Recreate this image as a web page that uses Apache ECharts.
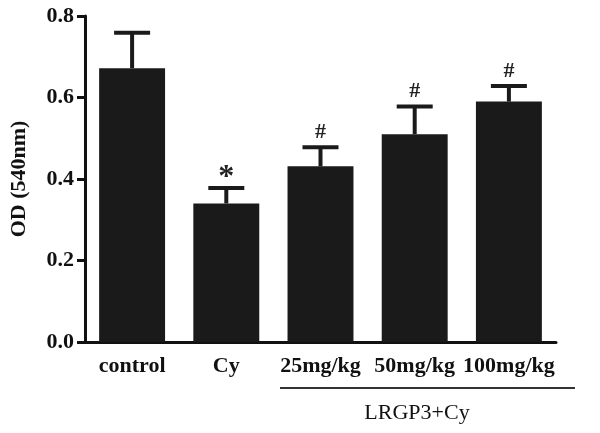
<!DOCTYPE html>
<html><head><meta charset="utf-8">
<script src="https://cdn.jsdelivr.net/npm/echarts@6/dist/echarts.min.js"></script>
<style>html,body{margin:0;padding:0;background:#fff}#c{width:600px;height:433px}</style>
</head><body><div id="c"></div>
<script>
var categories = ['control', 'Cy', '25mg/kg', '50mg/kg', '100mg/kg'];
var means = [0.672, 0.340, 0.431, 0.510, 0.590];
var errors = [0.087, 0.038, 0.047, 0.068, 0.038];
var marks = ['', '*', '#', '#', '#'];
var yTicks = [0.0, 0.2, 0.4, 0.6, 0.8];
var groupLabel = 'LRGP3+Cy';
var yTitle = 'OD (540nm)';

var FONT = '"Liberation Serif","Times New Roman",serif';
var chart = echarts.init(document.getElementById('c'), null, {renderer: 'canvas'});

var errData = categories.map(function (c, i) { return [i, means[i], means[i] + errors[i], marks[i]]; });

chart.setOption({
  animation: false,
  grid: {left: 80, top: 16, width: 476, height: 326, containLabel: false},
  xAxis: {
    type: 'category', data: categories,
    axisLine: {lineStyle: {color: '#111', width: 3}},
    axisTick: {alignWithLabel: true, length: 10, lineStyle: {color: '#111', width: 3}},
    axisLabel: {color: '#111', fontFamily: FONT, fontWeight: 'bold', fontSize: 22, margin: 13, interval: 0}
  },
  yAxis: {
    type: 'value', min: 0, max: 0.8, interval: 0.2,
    name: yTitle, nameLocation: 'middle', nameGap: 55,
    nameTextStyle: {color: '#111', fontFamily: FONT, fontWeight: 'bold', fontSize: 22},
    splitLine: {show: false},
    axisLine: {show: true, lineStyle: {color: '#111', width: 3}},
    axisTick: {show: true, length: 8, lineStyle: {color: '#111', width: 3}},
    axisLabel: {color: '#111', fontFamily: FONT, fontWeight: 'bold', fontSize: 22, margin: 11,
      formatter: function (v) { return v.toFixed(1); }}
  },
  series: [
    {type: 'bar', data: means, barWidth: '70%', itemStyle: {color: '#1a1a1a'}, z: 2},
    {
      type: 'custom', data: errData, z: 3,
      renderItem: function (params, api) {
        var x = api.value(0);
        var lo = api.coord([x, api.value(1)]);
        var hi = api.coord([x, api.value(2)]);
        var capW = 36;
        var style = {stroke: '#1a1a1a', lineWidth: 4};
        var children = [
          {type: 'line', shape: {x1: lo[0], y1: lo[1], x2: hi[0], y2: hi[1]}, style: style},
          {type: 'line', shape: {x1: hi[0] - capW / 2, y1: hi[1], x2: hi[0] + capW / 2, y2: hi[1]}, style: style}
        ];
        var m = marks[params.dataIndex];
        if (m) {
          var isStar = m === '*';
          children.push({type: 'text', style: {
            text: m, x: hi[0], y: hi[1] - 4, align: 'center', verticalAlign: 'bottom',
            font: (isStar ? 'bold 32px ' : 'bold 22px ') + FONT, fill: '#222'
          }, y: isStar ? 10 : 0});
        }
        return {type: 'group', children: children};
      }
    }
  ],
  graphic: [
    {type: 'line', shape: {x1: 280, y1: 388, x2: 575, y2: 388}, style: {stroke: '#333', lineWidth: 2}},
    {type: 'text', style: {text: groupLabel, x: 417, y: 413, align: 'center', verticalAlign: 'middle',
      font: '22px ' + FONT, fill: '#111'}}
  ]
});
</script>
</body></html>
